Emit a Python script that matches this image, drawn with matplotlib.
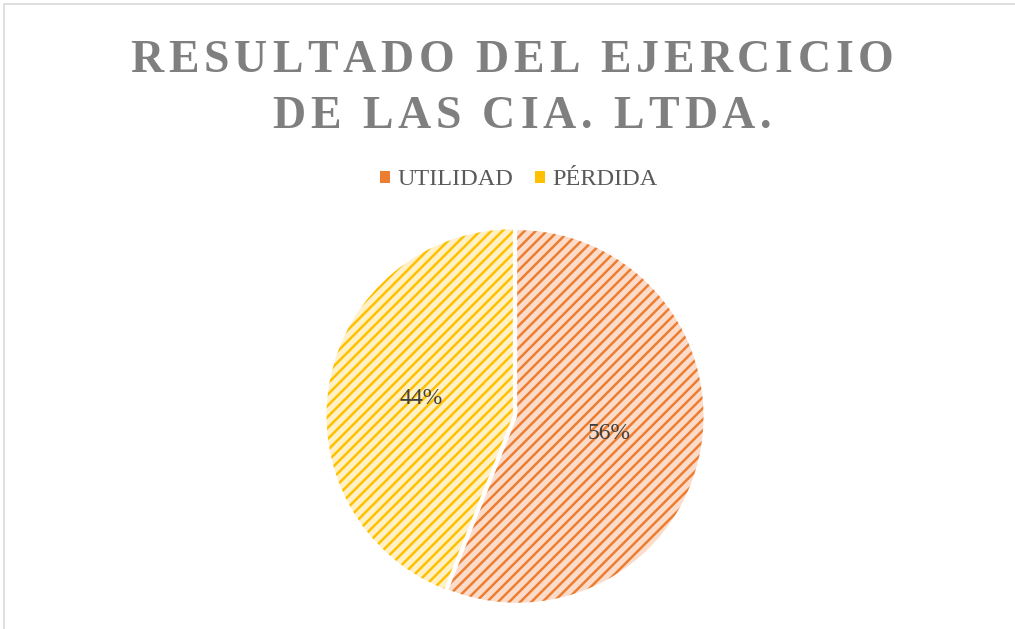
import matplotlib
matplotlib.use("Agg")
import matplotlib.pyplot as plt
from matplotlib.patches import Rectangle

title_lines = ["RESULTADO DEL EJERCICIO", "DE LAS CIA. LTDA."]
labels = ["UTILIDAD", "PÉRDIDA"]
values = [56, 44]
hatch_colors = ["#ED7D31", "#FFC000"]
face_colors = ["#FBDCCB", "#FFF0C6"]

plt.rcParams['hatch.linewidth'] = 1.8

fig = plt.figure(figsize=(10.15, 6.29), dpi=100)
fig.patches.append(Rectangle((4 / 1015, -0.01), 1.1, 1 - 4 / 629 + 0.01, transform=fig.transFigure,
                             fill=False, edgecolor="#D9D9D9", lw=1.2))

# title with letter spacing, drawn char by char
renderer = fig.canvas.get_renderer()
def spaced_text(s, xc, ybase, size, spacing):
    parts = []
    widths = []
    for ch in s:
        t = fig.text(0, 1 - ybase / 629, ch, fontsize=size, family="Liberation Serif", weight="bold",
                     color="#7F7F7F", va="baseline", ha="left")
        w = t.get_window_extent(renderer).width if ch != " " else size * 0.35
        parts.append(t)
        widths.append(w)
    total = sum(widths) + spacing * (len(s) - 1)
    x = xc - total / 2
    for t, w in zip(parts, widths):
        t.set_x(x / 1015)
        x += w + spacing

spaced_text(title_lines[0], 512, 72, 33, 4.8)
spaced_text(title_lines[1], 522, 128, 33, 4.8)

ax = fig.add_axes([(515 - 190) / 1015, (629 - 416 - 190) / 629, 380 / 1015, 380 / 629])
wedges, texts, autotexts = ax.pie(values, startangle=90, counterclock=False, explode=[0.012, 0.012],
                                  autopct="%d%%", pctdistance=0.5,
                                  textprops=dict(fontsize=17, family="Liberation Serif", color="#404040"),
                                  wedgeprops=dict(linewidth=0))
for w, hc, fc in zip(wedges, hatch_colors, face_colors):
    w.set_facecolor(fc)
    w.set_edgecolor(hc)
    w.set_hatch("///")
    w.set_linewidth(0)
for t in texts:
    t.set_text("")
ax.set_xlim(-1.02, 1.02)
ax.set_ylim(-1.02, 1.02)
ax.set_aspect("equal")

handles = [Rectangle((0, 0), 1, 1, facecolor=c, edgecolor="none") for c in hatch_colors]
fig.legend(handles, labels, loc="center", bbox_to_anchor=(519 / 1015, 1 - 180 / 629), ncol=2,
           frameon=False, handlelength=0.4, handleheight=0.4, handletextpad=0.3, columnspacing=0.9,
           prop=dict(family="Liberation Serif", size=17.5), labelcolor="#595959")

fig.savefig("out.png", dpi=100)
